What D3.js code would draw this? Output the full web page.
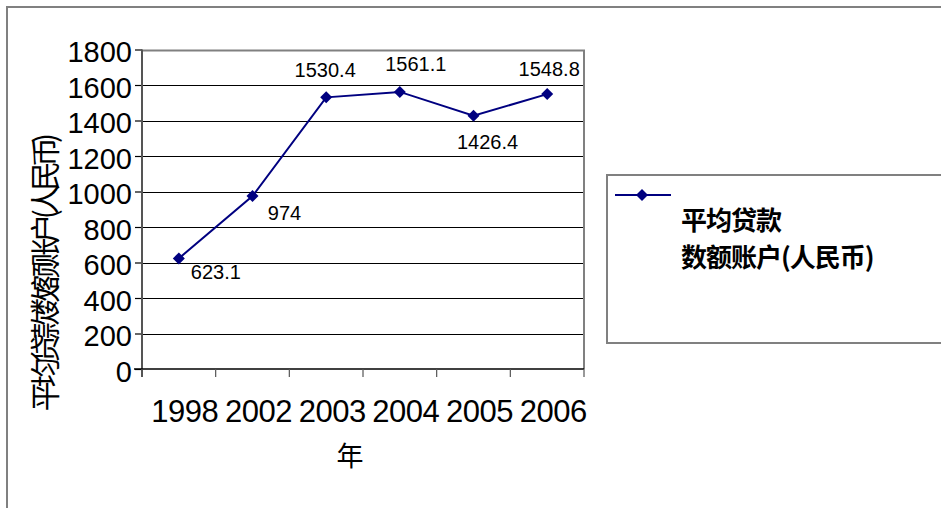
<!DOCTYPE html>
<html>
<head>
<meta charset="utf-8">
<script src="https://cdn.jsdelivr.net/npm/d3@7/dist/d3.min.js"></script>
<style>
  html, body { margin: 0; padding: 0; background: #fff; }
  svg { display: block; }
</style>
</head>
<body>
<svg id="chart" width="941" height="508"></svg>
<script>
// ---- data ----
const categories = ["1998", "2002", "2003", "2004", "2005", "2006"];
const values = [623.1, 974, 1530.4, 1561.1, 1426.4, 1548.8];
const valueLabels = ["623.1", "974", "1530.4", "1561.1", "1426.4", "1548.8"];
const yTicks = [0, 200, 400, 600, 800, 1000, 1200, 1400, 1600, 1800];
const seriesName = ["平均贷款", "数额账户(人民币)"];
const yTitle = "平均贷款数额账户(人民币)";
const xTitle = "年";
// label placement offsets (dx, dy baseline) relative to the point
const labelOffsets = [[37, 21], [32, 24], [-1, -20], [16, -21], [14, 33], [2, -18]];

// ---- layout ----
const svg = d3.select("#chart");
const plot = { left: 142, right: 584, top: 49.5, bottom: 369 };
const navy = "#000080";
const grey = "#808080";
const numFont = "'Liberation Sans', Arial, sans-serif";
const cjkFont = "'Noto Sans CJK SC', 'Liberation Sans', sans-serif";

const x = d3.scaleBand().domain(categories).range([plot.left, plot.right]).padding(0);
const y = d3.scaleLinear().domain([0, 1800]).range([plot.bottom, plot.top]);
const cx = d => x(d) + x.bandwidth() / 2;

// outer chart border
svg.append("rect").attr("x", 7).attr("y", 7).attr("width", 1000).attr("height", 600)
  .attr("fill", "none").attr("stroke", grey).attr("stroke-width", 2);

// gridlines
svg.append("g").selectAll("line").data(yTicks.filter(t => t > 0 && t < 1800)).join("line")
  .attr("x1", plot.left).attr("x2", plot.right)
  .attr("y1", d => Math.round(y(d)) + 0.5).attr("y2", d => Math.round(y(d)) + 0.5)
  .attr("stroke", "#000").attr("stroke-width", 1);

// plot border top and right (grey)
svg.append("path")
  .attr("d", `M${plot.left},${Math.round(y(1800)) + 0.5}H${plot.right}V${plot.bottom}`)
  .attr("fill", "none").attr("stroke", grey).attr("stroke-width", 2);

// y axis
const yAxis = d3.axisLeft(y).tickValues(yTicks).tickFormat(d3.format("d"))
  .tickSize(7).tickPadding(3).tickSizeOuter(0);
const gy = svg.append("g").attr("transform", `translate(${plot.left},0)`).call(yAxis);
gy.select(".domain").remove();
gy.selectAll(".tick line").attr("stroke", "#000").attr("stroke-width", 1.2);
gy.selectAll(".tick text").attr("font-family", numFont).attr("font-size", 29).attr("fill", "#000")
  .attr("dy", "0.42em");
svg.append("line").attr("x1", plot.left).attr("x2", plot.left)
  .attr("y1", plot.top).attr("y2", plot.bottom + 8)
  .attr("stroke", "#555").attr("stroke-width", 2);

// x axis
const xEdges = categories.map(d => x(d)).concat([plot.right]);
svg.append("line").attr("x1", plot.left - 8).attr("x2", plot.right)
  .attr("y1", plot.bottom).attr("y2", plot.bottom)
  .attr("stroke", "#000").attr("stroke-width", 1.5);
svg.append("g").selectAll("line").data(xEdges).join("line")
  .attr("x1", d => d).attr("x2", d => d)
  .attr("y1", plot.bottom).attr("y2", plot.bottom + 8)
  .attr("stroke", "#555").attr("stroke-width", 1.2);
svg.append("g").selectAll("text").data(categories).join("text")
  .attr("x", d => cx(d) + 6).attr("y", plot.bottom + 53)
  .attr("text-anchor", "middle").attr("font-family", numFont).attr("font-size", 31)
  .attr("letter-spacing", "-0.5px")
  .attr("fill", "#000").text(d => d);

// axis titles
svg.append("text").attr("x", 350).attr("y", 466).attr("text-anchor", "middle")
  .attr("font-family", cjkFont).attr("font-size", 27).attr("fill", "#000").text(xTitle);
svg.append("text").attr("transform", "translate(56,275) rotate(-90)")
  .attr("text-anchor", "middle").attr("font-family", cjkFont).attr("font-size", 30)
  .attr("letter-spacing", "-6px").attr("fill", "#000").text(yTitle);

// series line
const line = d3.line().x((d, i) => cx(categories[i])).y(d => y(d));
svg.append("path").datum(values).attr("d", line)
  .attr("fill", "none").attr("stroke", navy).attr("stroke-width", 2);

svg.append("g").selectAll("path").data(values).join("path")
  .attr("d", d3.symbol().type(d3.symbolSquare).size(72))
  .attr("transform", (d, i) => `translate(${cx(categories[i])},${y(d)}) rotate(45)`)
  .attr("fill", navy);

// data labels
svg.append("g").selectAll("text").data(values).join("text")
  .attr("x", (d, i) => cx(categories[i]) + labelOffsets[i][0])
  .attr("y", (d, i) => y(d) + labelOffsets[i][1])
  .attr("text-anchor", "middle").attr("font-family", numFont).attr("font-size", 20)
  .attr("fill", "#000").text((d, i) => valueLabels[i]);

// legend
const lg = svg.append("g");
lg.append("rect").attr("x", 607).attr("y", 175).attr("width", 400).attr("height", 168)
  .attr("fill", "#fff").attr("stroke", grey).attr("stroke-width", 2);
lg.append("line").attr("x1", 615).attr("x2", 671).attr("y1", 195).attr("y2", 195)
  .attr("stroke", navy).attr("stroke-width", 2);
lg.append("path").attr("d", d3.symbol().type(d3.symbolSquare).size(72))
  .attr("transform", "translate(642,195) rotate(45)").attr("fill", navy);
lg.selectAll("text").data(seriesName).join("text")
  .attr("x", 681).attr("y", (d, i) => 230 + i * 37)
  .attr("font-family", cjkFont).attr("font-size", 26).attr("font-weight", "bold")
  .attr("letter-spacing", "-1px").attr("fill", "#000").text(d => d);
</script>
</body>
</html>
